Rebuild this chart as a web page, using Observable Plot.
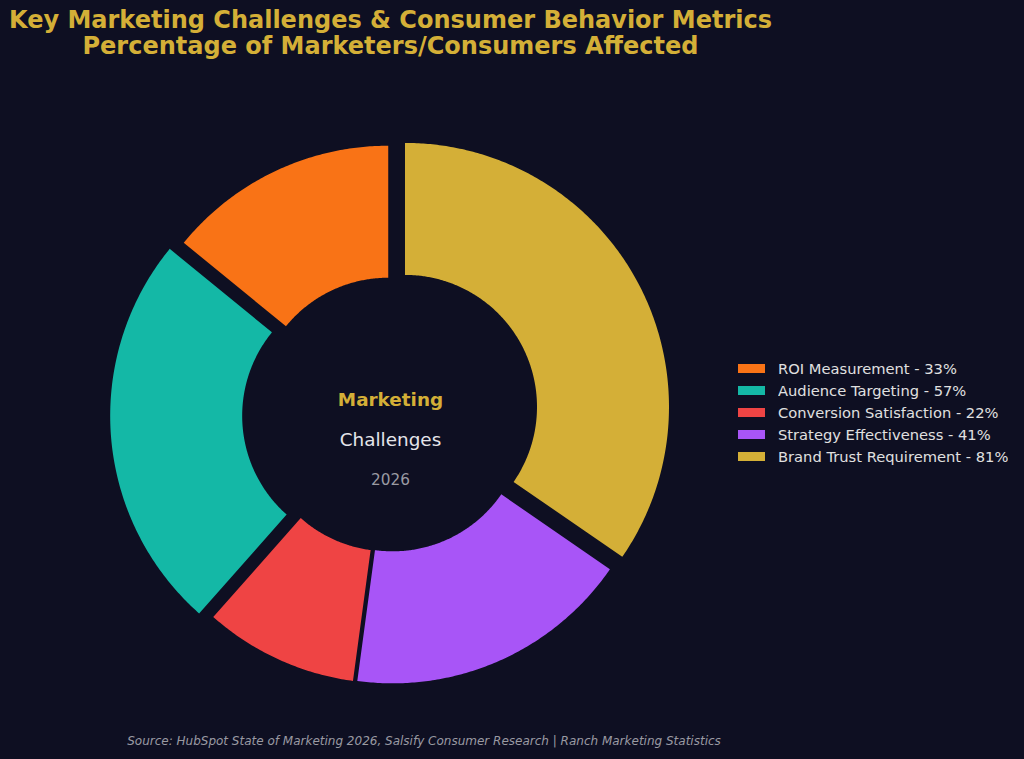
<!DOCTYPE html>
<html>
<head>
<meta charset="utf-8">
<script src="https://cdn.jsdelivr.net/npm/d3@7"></script>
<script src="https://cdn.jsdelivr.net/npm/@observablehq/plot@0.6"></script>
<style>
  html, body { margin: 0; padding: 0; background: #0E0F22; }
  body { width: 1024px; height: 759px; overflow: hidden; position: relative; font-family: "DejaVu Sans", sans-serif; }
  #title { position: absolute; left: 0; top: 7px; width: 781px; text-align: center; color: #D4AF37; font-weight: bold; font-size: 24px; line-height: 26px; }
  #chart { position: absolute; left: 0; top: 0; }
  #legend { position: absolute; left: 738px; top: 357px; width: 286px; }
  #legend .lg-swatch { height: 22px !important; padding-bottom: 0 !important; color: #E0E0E0; font-size: 14.7px; font-family: "DejaVu Sans", sans-serif; }
  #legend .lg-swatch svg { margin-right: 13px !important; }
  #source { position: absolute; left: 0; top: 734px; width: 848px; text-align: center; color: #9A9AA2; font-style: italic; font-size: 12px; }
</style>
</head>
<body>
<div id="title">Key Marketing Challenges &amp; Consumer Behavior Metrics<br>Percentage of Marketers/Consumers Affected</div>
<div id="chart"></div>
<div id="legend"></div>
<div id="source">Source: HubSpot State of Marketing 2026, Salsify Consumer Research | Ranch Marketing Statistics</div>
<script>
// ---- data ----
const labels = ["ROI Measurement", "Audience Targeting", "Conversion Satisfaction", "Strategy Effectiveness", "Brand Trust Requirement"];
const values = [33, 57, 22, 41, 81];
const colors = ["#F97316", "#14B8A6", "#EF4444", "#A855F7", "#D4AF37"];
const centerLines = ["Marketing", "Challenges", "2026"];

// ---- geometry (donut built from d3.pie angles) ----
const W = 1024, H = 759;
const cxPx = 390, cyPx = 414, scalePx = 264; // pixels per unit radius
const R = 1, r = 0.5;
const pie = d3.pie().sort(null).value(d => d)(values);
const pts = [];
pie.forEach((p, i) => {
  // d3.pie angles run clockwise from 12 o'clock; the chart runs counterclockwise from 12 o'clock
  const a0 = Math.PI / 2 + p.startAngle, a1 = Math.PI / 2 + p.endAngle;
  const mid = (a0 + a1) / 2;
  const e = values[i] > 50 ? 0.062 : 0.02;
  const ox = e * Math.cos(mid), oy = e * Math.sin(mid);
  const n = Math.max(8, Math.ceil((a1 - a0) * 180 / Math.PI * 2));
  for (let k = 0; k <= n; k++) {
    const t = a0 + (a1 - a0) * k / n;
    pts.push({label: labels[i], x: ox + R * Math.cos(t), y: oy + R * Math.sin(t)});
  }
  for (let k = n; k >= 0; k--) {
    const t = a0 + (a1 - a0) * k / n;
    pts.push({label: labels[i], x: ox + r * Math.cos(t), y: oy + r * Math.sin(t)});
  }
});

const chart = Plot.plot({
  width: W, height: H, margin: 0,
  style: {background: "transparent"},
  x: {domain: [-cxPx / scalePx, (W - cxPx) / scalePx], axis: null},
  y: {domain: [-(H - cyPx) / scalePx, cyPx / scalePx], axis: null},
  color: {domain: labels, range: colors},
  marks: [
    Plot.line(pts, {x: "x", y: "y", z: "label", fill: "label", stroke: "none", curve: "linear-closed"}),
    Plot.text([centerLines[0]], {x: 0, y: 0, dy: -14, text: d => d, fill: "#D4AF37", fontSize: 18.4, fontWeight: "bold", fontFamily: "DejaVu Sans"}),
    Plot.text([centerLines[1]], {x: 0, y: 0, dy: 26, text: d => d, fill: "#E5E5EA", fontSize: 18.4, fontFamily: "DejaVu Sans"}),
    Plot.text([centerLines[2]], {x: 0, y: 0, dy: 66, text: d => d, fill: "#9A9AA2", fontSize: 15.3, fontFamily: "DejaVu Sans"})
  ]
});
document.getElementById("chart").appendChild(chart);

const legend = Plot.legend({
  color: {domain: labels, range: colors},
  legend: "swatches",
  columns: 1,
  swatchWidth: 27,
  swatchHeight: 9,
  className: "lg",
  tickFormat: d => `${d} - ${values[labels.indexOf(d)]}%`,
  style: {fontSize: "14.7px", color: "#E0E0E0", fontFamily: "DejaVu Sans", background: "transparent"}
});
document.getElementById("legend").appendChild(legend);
</script>
</body>
</html>
